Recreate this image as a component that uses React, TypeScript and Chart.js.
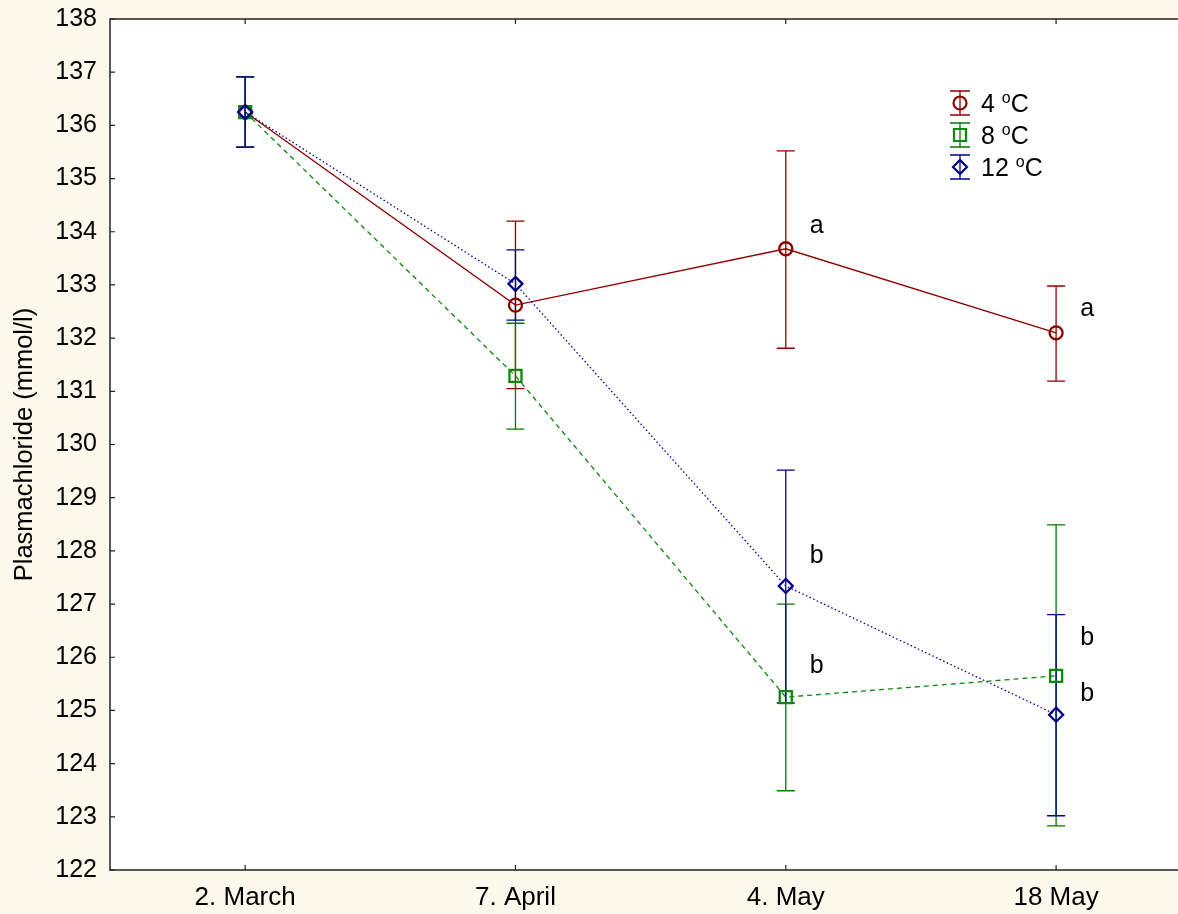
import React, { useEffect, useRef } from 'react';
import { Chart, registerables } from 'chart.js';

Chart.register(...registerables);

const categories = ['2. March', '7. April', '4. May', '18 May'];

const mean4 = [136.25, 132.62, 133.68, 132.1];
const hi4 = [136.91, 134.2, 135.52, 132.98];
const lo4 = [135.59, 131.05, 131.81, 131.19];

const mean8 = [136.25, 131.29, 125.25, 125.65];
const hi8 = [136.91, 132.28, 127.0, 128.49];
const lo8 = [135.59, 130.29, 123.49, 122.83];

const mean12 = [136.25, 133.02, 127.34, 124.92];
const hi12 = [136.91, 133.66, 129.52, 126.8];
const lo12 = [135.59, 132.34, 125.14, 123.02];

const seriesNames = ['4 ', '8 ', '12 '];

const letterText = ['a', 'a', 'b', 'b', 'b', 'b'];
const letterCat = [2, 3, 2, 2, 3, 3];
const letterY = [134.15, 132.59, 127.94, 125.87, 126.4, 125.35];

const yTicks = [122, 138];

const RED = '#900000';
const GREEN = '#0a8a0a';
const BLUE = '#00008c';
const FONT = '"Liberation Sans", Arial, sans-serif';

function drawMarker(ctx: CanvasRenderingContext2D, style: string, x: number, y: number, color: string) {
  ctx.save();
  ctx.strokeStyle = color;
  ctx.lineWidth = 2.2;
  ctx.beginPath();
  if (style === 'circle') {
    ctx.arc(x, y, 6.5, 0, Math.PI * 2);
  } else if (style === 'rect') {
    ctx.rect(x - 6, y - 6, 12, 12);
  } else {
    ctx.moveTo(x, y - 7);
    ctx.lineTo(x + 7, y);
    ctx.lineTo(x, y + 7);
    ctx.lineTo(x - 7, y);
    ctx.closePath();
  }
  ctx.stroke();
  ctx.restore();
}

function zeroPad(s: any) {
  s.paddingTop = 0;
  s.paddingBottom = 0;
  s.paddingLeft = 0;
  s.paddingRight = 0;
}

export default function App() {
  const ref = useRef<HTMLCanvasElement>(null);

  useEffect(() => {
    const canvas = ref.current;
    if (!canvas) return;

    const series = [
      { mean: mean4, hi: hi4, lo: lo4, color: RED, bar: RED, style: 'circle', dash: [] as number[] },
      { mean: mean8, hi: hi8, lo: lo8, color: GREEN, bar: '#007a00', style: 'rect', dash: [5, 4] },
      { mean: mean12, hi: hi12, lo: lo12, color: BLUE, bar: BLUE, style: 'rectRot', dash: [1.5, 2.5] },
    ];

    const bgPlugin = {
      id: 'bg',
      beforeDraw(chart: any) {
        const { ctx, chartArea } = chart;
        ctx.save();
        ctx.fillStyle = '#fdf8ec';
        ctx.fillRect(0, 0, chart.width, chart.height);
        ctx.fillStyle = '#ffffff';
        ctx.fillRect(chartArea.left, chartArea.top, chartArea.right - chartArea.left, chartArea.bottom - chartArea.top);
        ctx.restore();
      },
    };

    const errPlugin = {
      id: 'err',
      beforeDatasetsDraw(chart: any) {
        const { ctx } = chart;
        const xs = chart.scales.x;
        const ys = chart.scales.y;
        ctx.save();
        ctx.lineWidth = 1.3;
        series.forEach((s) => {
          ctx.strokeStyle = s.bar;
          s.mean.forEach((_, i) => {
            const x = xs.getPixelForValue(i);
            const yt = ys.getPixelForValue(s.hi[i]);
            const yb = ys.getPixelForValue(s.lo[i]);
            ctx.beginPath();
            ctx.moveTo(x, yt);
            ctx.lineTo(x, yb);
            ctx.moveTo(x - 9, yt);
            ctx.lineTo(x + 9, yt);
            ctx.moveTo(x - 9, yb);
            ctx.lineTo(x + 9, yb);
            ctx.stroke();
          });
        });
        ctx.restore();
      },
    };

    const overlayPlugin = {
      id: 'overlay',
      afterDraw(chart: any) {
        const { ctx, chartArea } = chart;
        const xs = chart.scales.x;
        const ys = chart.scales.y;
        ctx.save();
        // axes frame
        ctx.strokeStyle = '#222';
        ctx.lineWidth = 1.5;
        ctx.beginPath();
        ctx.moveTo(chartArea.right, chartArea.top);
        ctx.lineTo(chartArea.left, chartArea.top);
        ctx.lineTo(chartArea.left, chartArea.bottom);
        ctx.lineTo(chartArea.right, chartArea.bottom);
        ctx.stroke();
        ctx.lineWidth = 1.2;
        ctx.beginPath();
        ys.ticks.forEach((t: any) => {
          const y = ys.getPixelForValue(t.value);
          ctx.moveTo(chartArea.left, y);
          ctx.lineTo(chartArea.left + 5, y);
        });
        xs.ticks.forEach((t: any) => {
          const x = xs.getPixelForValue(t.value);
          ctx.moveTo(x, chartArea.bottom);
          ctx.lineTo(x, chartArea.bottom - 5);
          ctx.moveTo(x, chartArea.top);
          ctx.lineTo(x, chartArea.top + 5);
        });
        ctx.stroke();

        // axis title
        ctx.fillStyle = '#000';
        ctx.font = `25.5px ${FONT}`;
        ctx.textAlign = 'center';
        ctx.textBaseline = 'middle';
        ctx.save();
        ctx.translate(25, (chartArea.top + chartArea.bottom) / 2);
        ctx.rotate(-Math.PI / 2);
        ctx.fillText('Plasmachloride (mmol/l)', 0, 0);
        ctx.restore();

        // letters
        ctx.font = `25px ${FONT}`;
        ctx.textAlign = 'center';
        letterText.forEach((t, i) => {
          const x = xs.getPixelForValue(letterCat[i]) + 31;
          const y = ys.getPixelForValue(letterY[i]) + 2;
          ctx.fillText(t, x, y);
        });

        // legend
        ctx.textAlign = 'left';
        const lx = 960;
        const rows = [103, 135, 167];
        series.forEach((s, i) => {
          const y = rows[i];
          ctx.strokeStyle = s.bar;
          ctx.lineWidth = 1.3;
          ctx.beginPath();
          ctx.moveTo(lx, y - 12);
          ctx.lineTo(lx, y + 12);
          ctx.moveTo(lx - 10, y - 12);
          ctx.lineTo(lx + 10, y - 12);
          ctx.moveTo(lx - 10, y + 12);
          ctx.lineTo(lx + 10, y + 12);
          ctx.stroke();
          drawMarker(ctx, s.style, lx, y, s.color);
          ctx.fillStyle = '#000';
          ctx.textBaseline = 'alphabetic';
          ctx.font = `25px ${FONT}`;
          let tx = 981;
          const base = y + 9;
          ctx.fillText(seriesNames[i], tx, base);
          tx += ctx.measureText(seriesNames[i]).width;
          ctx.font = `16px ${FONT}`;
          ctx.fillText('o', tx, base - 9);
          tx += ctx.measureText('o').width;
          ctx.font = `25px ${FONT}`;
          ctx.fillText('C', tx, base);
        });
        ctx.restore();
      },
    };

    const chart = new Chart(canvas, {
      type: 'line',
      data: {
        datasets: series.map((s, k) => ({
          label: seriesNames[k] + 'oC',
          data: s.mean.map((v, i) => ({ x: i, y: v })),
          borderColor: s.color,
          backgroundColor: 'rgba(0,0,0,0)',
          borderWidth: 1.3,
          borderDash: s.dash,
          pointStyle: s.style as any,
          pointRadius: s.style === 'circle' ? 6.5 : s.style === 'rect' ? 8.5 : 7,
          pointBorderWidth: 2.3,
          pointBorderColor: s.color,
          pointBackgroundColor: 'rgba(0,0,0,0)',
          tension: 0,
          order: 3 - k,
        })),
      },
      options: {
        animation: false,
        responsive: true,
        maintainAspectRatio: false,
        layout: { autoPadding: false, padding: { top: 19, right: 0, left: 0, bottom: 0 } },
        plugins: { legend: { display: false }, tooltip: { enabled: false } },
        scales: {
          x: {
            type: 'linear',
            min: -0.5,
            max: 3.451,
            afterBuildTicks: (s: any) => {
              s.ticks = categories.map((_, i) => ({ value: i }));
            },
            afterFit: (s: any) => {
              s.height = 44;
              zeroPad(s);
            },
            grid: { display: false, drawTicks: false },
            border: { display: false },
            ticks: {
              callback: (v: any) => categories[v] ?? '',
              font: { family: FONT, size: 26 },
              color: '#000',
              padding: 12,
              maxRotation: 0,
              autoSkip: false,
            },
          },
          y: {
            min: yTicks[0],
            max: yTicks[1],
            afterFit: (s: any) => {
              s.width = 110;
              zeroPad(s);
            },
            grid: { display: false, drawTicks: false },
            border: { display: false },
            ticks: {
              stepSize: 1,
              font: { family: FONT, size: 25 },
              color: '#000',
              padding: 13,
            },
          },
        },
      },
      plugins: [bgPlugin, errPlugin, overlayPlugin],
    });

    return () => chart.destroy();
  }, []);

  return (
    <div style={{ position: 'fixed', left: 0, top: 0, width: 1178, height: 914 }}>
      <canvas ref={ref} />
    </div>
  );
}
